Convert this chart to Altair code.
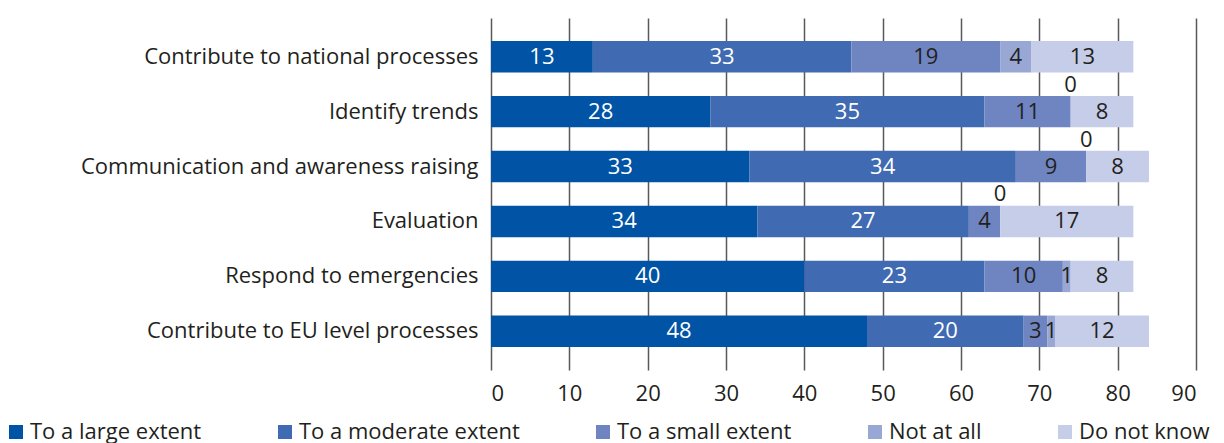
import altair as alt
import pandas as pd

categories = [
    "Contribute to national processes",
    "Identify trends",
    "Communication and awareness raising",
    "Evaluation",
    "Respond to emergencies",
    "Contribute to EU level processes",
]
series = ["To a large extent", "To a moderate extent", "To a small extent", "Not at all", "Do not know"]
large = [13, 28, 33, 34, 40, 48]
moderate = [33, 35, 34, 27, 23, 20]
small = [19, 11, 9, 4, 10, 3]
not_at_all = [4, 0, 0, 0, 1, 1]
dont_know = [13, 8, 8, 17, 8, 12]
colors = ["#0053a5", "#406ab2", "#6e85c1", "#98a7d4", "#c5cde8"]
x_ticks = [0, 10, 20, 30, 40, 50, 60, 70, 80, 90]

FONT = "Open Sans"
DARK = "#231f20"

rows = []
all_vals = [large, moderate, small, not_at_all, dont_know]
for i, cat in enumerate(categories):
    start = 0
    for j, s in enumerate(series):
        v = all_vals[j][i]
        rows.append(dict(category=cat, series=s, order=j, value=v,
                         start=start, end=start + v, mid=start + v / 2, label=str(v)))
        start += v
df = pd.DataFrame(rows)

x_scale = alt.Scale(domain=[0, 90], nice=False, zero=True)
y_scale = alt.Scale(domain=categories, paddingInner=0.427, paddingOuter=0.418)

bars = alt.Chart(df).mark_bar().encode(
    x=alt.X("start:Q", scale=x_scale,
            axis=alt.Axis(values=x_ticks, title=None, grid=True, gridColor="#58595b",
                          gridWidth=1.5, domain=False, ticks=False, tickSize=0,
                          labelFontSize=22, labelFont=FONT, labelColor=DARK,
                          labelPadding=13)),
    x2="end:Q",
    y=alt.Y("category:N", sort=categories, scale=y_scale,
            axis=alt.Axis(title=None, domain=False, ticks=False, tickSize=0,
                          labelFontSize=22, labelFont=FONT, labelColor=DARK,
                          labelPadding=13, labelLimit=600, grid=False)),
    color=alt.Color("series:N", sort=series,
                    scale=alt.Scale(domain=series, range=colors),
                    legend=alt.Legend(title=None, orient="none", legendX=-486, legendY=403,
                                      direction="horizontal", symbolType="square",
                                      symbolSize=196, symbolStrokeWidth=0, symbolOffset=0,
                                      labelOffset=3, columnPadding=72, labelFontSize=22,
                                      labelFont=FONT, labelColor=DARK, labelLimit=500,
                                      padding=0)),
)

labels = alt.Chart(df).transform_filter(alt.datum.value > 0).mark_text(
    fontSize=22, font=FONT, baseline="middle", align="center"
).encode(
    x=alt.X("mid:Q", scale=x_scale),
    y=alt.Y("category:N", sort=categories, scale=y_scale),
    text="label:N",
    color=alt.condition(alt.datum.order < 2, alt.value("white"), alt.value(DARK)),
)

zero_labels = alt.Chart(df).transform_filter(alt.datum.value == 0).mark_text(
    fontSize=22, font=FONT, baseline="middle", align="center", dy=-27, color=DARK
).encode(
    x=alt.X("start:Q", scale=x_scale),
    y=alt.Y("category:N", sort=categories, scale=y_scale),
    text="label:N",
)

chart = alt.layer(bars, labels, zero_labels).properties(
    width=705, height=352,
    autosize=alt.AutoSizeParams(type="none"),
    padding={"left": 483, "top": 10, "right": 20, "bottom": 75},
).configure_view(stroke=None)

chart.save("out.html", embed_options={"renderer": "svg", "actions": False})
